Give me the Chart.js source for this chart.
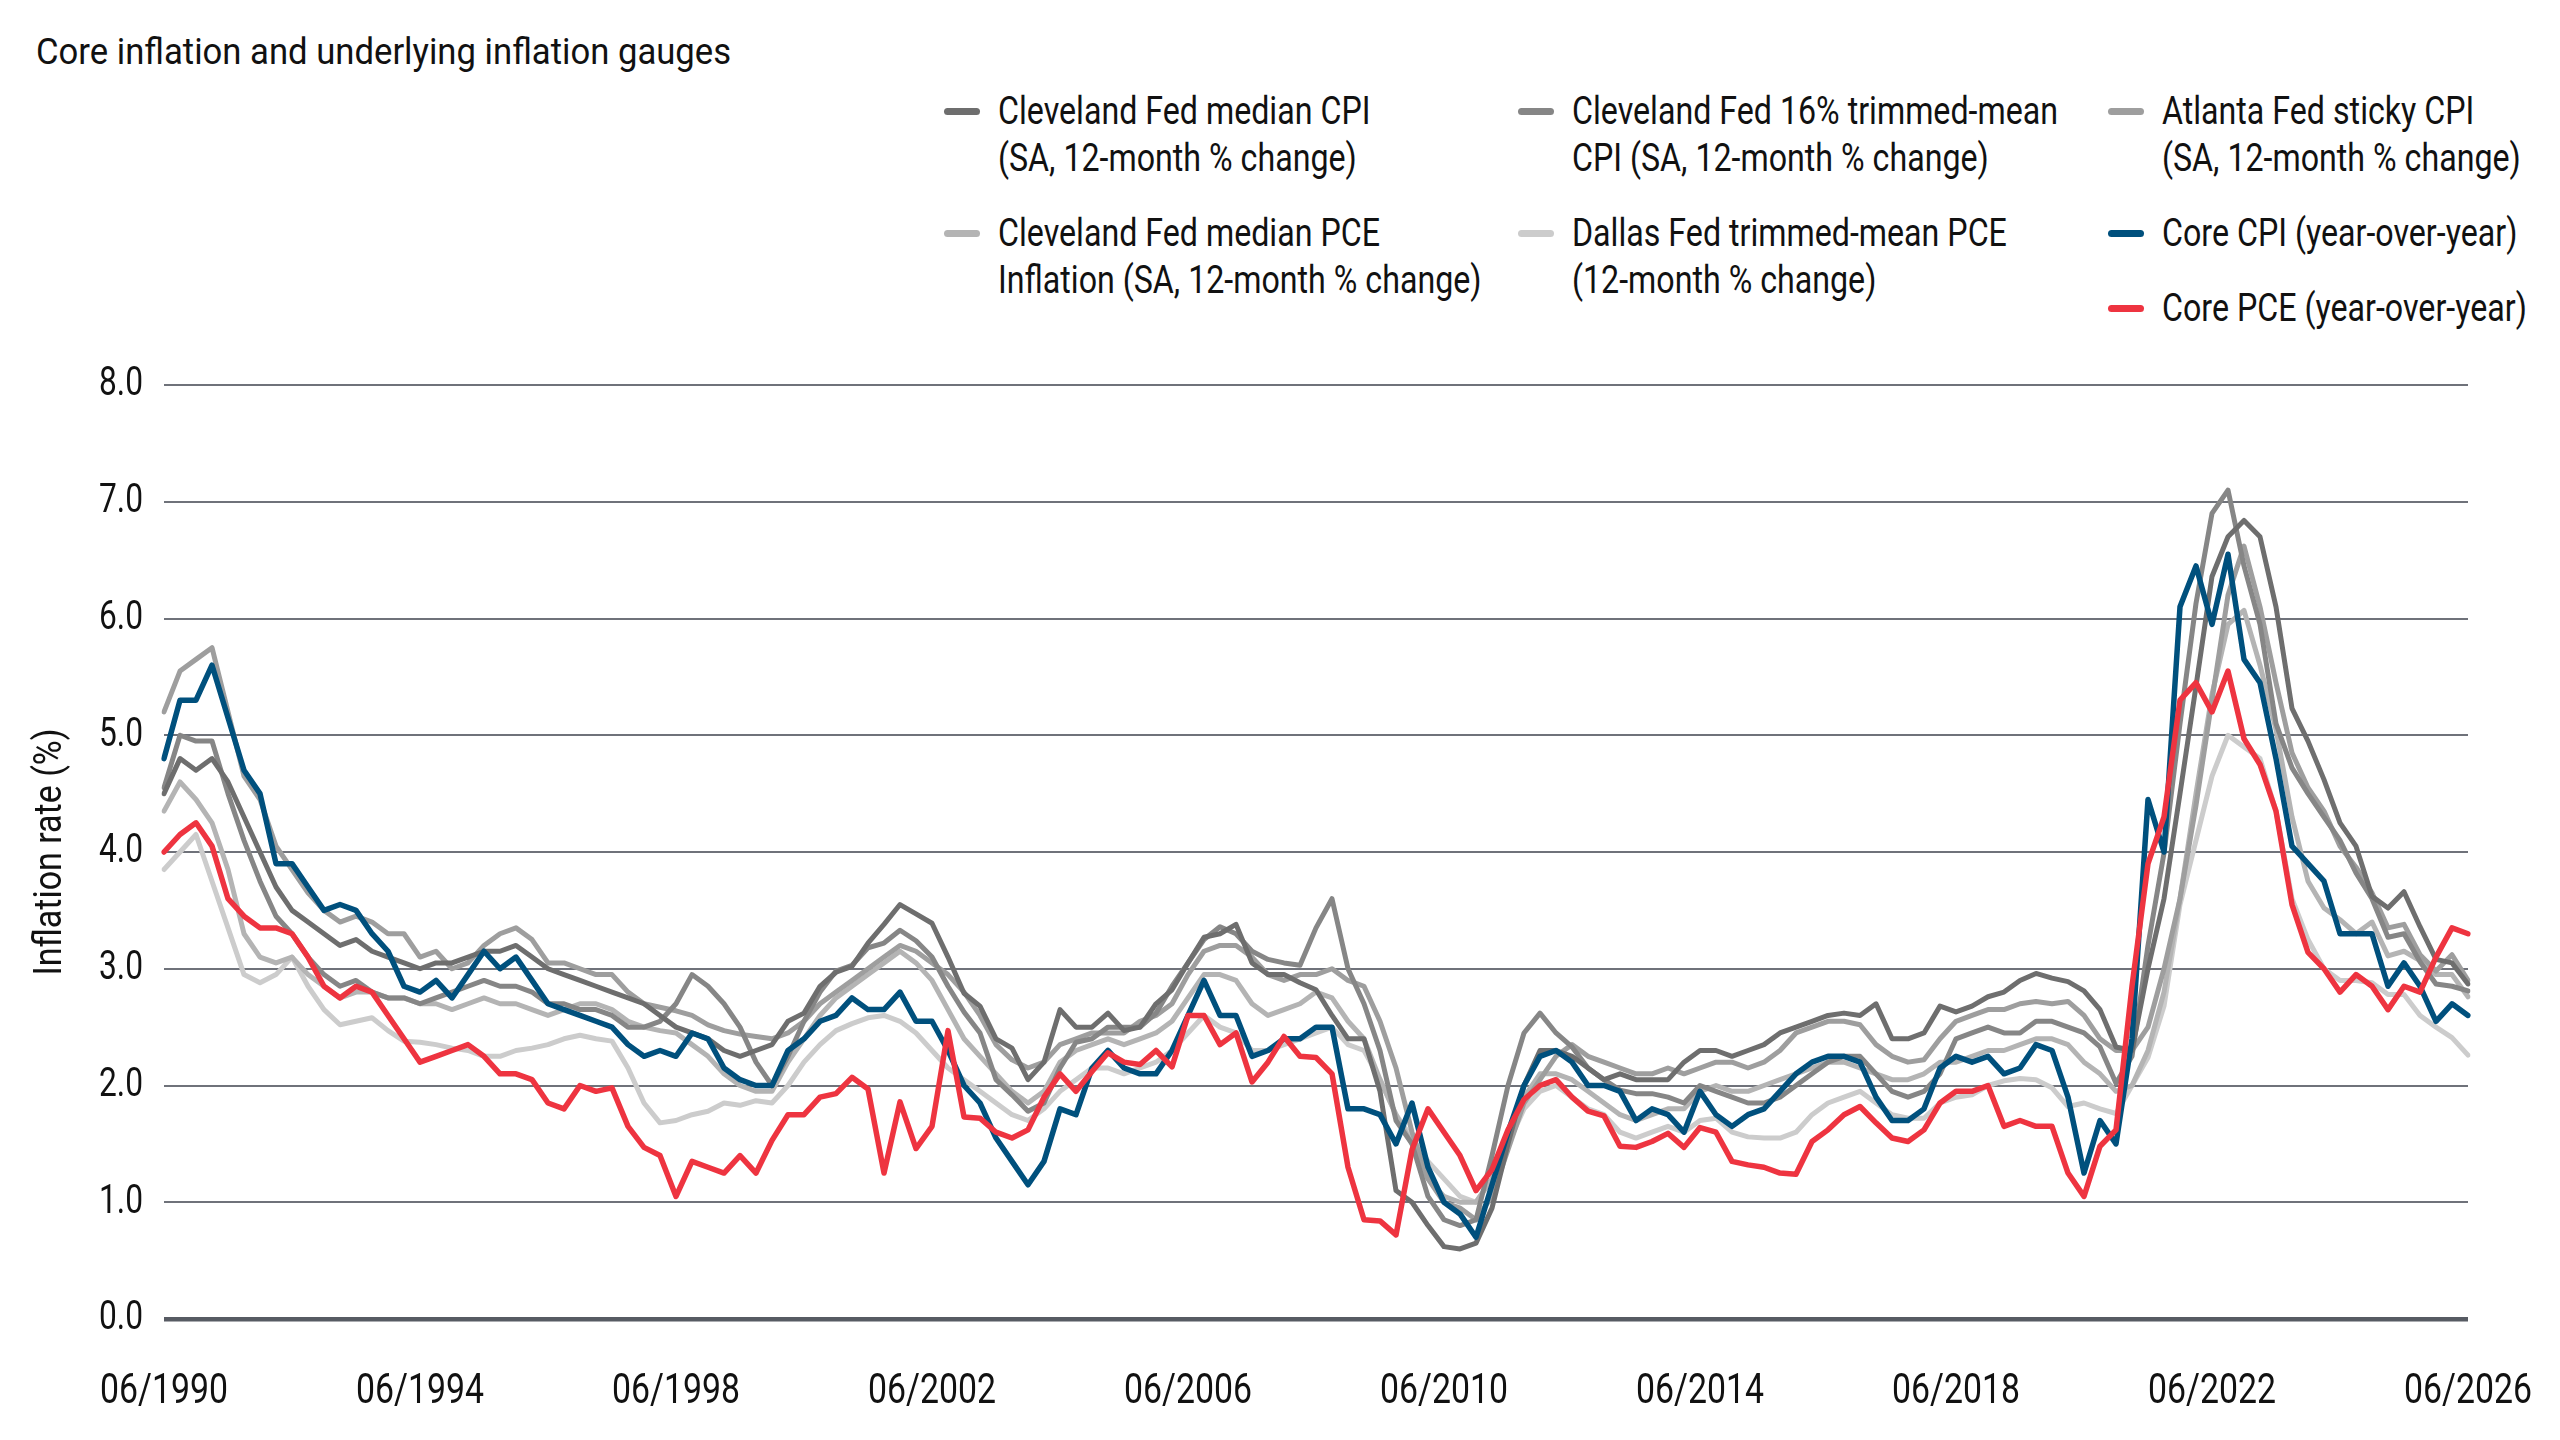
<!DOCTYPE html>
<html>
<head>
<meta charset="utf-8">
<title>Core inflation and underlying inflation gauges</title>
<script src="https://cdn.jsdelivr.net/npm/chart.js@4.4.1/dist/chart.umd.min.js"></script>
<style>
  html, body { margin: 0; padding: 0; background: #fff; }
  #wrap { position: relative; width: 2560px; height: 1440px; overflow: hidden;
          font-family: Roboto, 'Liberation Sans', sans-serif; color: #111; }
  #title { position: absolute; left: 36px; top: 31px; font-size: 37px; line-height: 42px; white-space: nowrap;
           transform-origin: 0 50%; }
  .legend-col { position: absolute; top: 88px; display: flex; flex-direction: column; gap: 28px; }
  .legend-item { display: flex; align-items: flex-start; }
  .legend-swatch { width: 36px; height: 7px; border-radius: 4px; margin-top: 20px; margin-right: 18px; flex: none; }
  .legend-text { font-size: 39px; line-height: 47px; white-space: pre; transform-origin: 0 50%; }
  canvas { position: absolute; left: 0; top: 0; }
</style>
</head>
<body>
<div id="wrap">
  <div id="title">Core inflation and underlying inflation gauges</div>
  <div id="legend"></div>
  <canvas id="inflationChart" width="2560" height="1440"></canvas>
</div>
<script>
// Quarterly readings, 06/1990 .. 06/2026 (one row per year: Mar, Jun, Sep, Dec)
const medianCpi = [
  4.5, 4.8, 4.7,
  4.8, 4.6, 4.3, 4.0,
  3.7, 3.5, 3.4, 3.3,
  3.2, 3.25, 3.15, 3.1,
  3.05, 3.0, 3.05, 3.05,
  3.1, 3.15, 3.15, 3.2,
  3.1, 3.0, 2.95, 2.9,
  2.85, 2.8, 2.75, 2.7,
  2.6, 2.5, 2.45, 2.4,
  2.3, 2.25, 2.3, 2.35,
  2.55, 2.62, 2.85, 2.97,
  3.02, 3.22, 3.38, 3.55,
  3.47, 3.39, 3.1, 2.79,
  2.68, 2.4, 2.32, 2.05,
  2.2, 2.65, 2.5, 2.5,
  2.62, 2.47, 2.5, 2.7,
  2.82, 3.05, 3.27, 3.3,
  3.38, 3.05, 2.95, 2.95,
  2.88, 2.82, 2.6, 2.4,
  2.4, 1.95, 1.1, 1.0,
  0.8, 0.62, 0.6, 0.65,
  0.95, 1.5, 2.0, 2.3,
  2.3, 2.25, 2.15, 2.05,
  2.1, 2.05, 2.05, 2.05,
  2.2, 2.3, 2.3, 2.25,
  2.3, 2.35, 2.45, 2.5,
  2.55, 2.6, 2.62, 2.6,
  2.7, 2.4, 2.4, 2.45,
  2.68, 2.63, 2.68, 2.76,
  2.8, 2.9, 2.96, 2.92,
  2.89, 2.81, 2.65, 2.33,
  2.3, 3.0, 3.6, 4.5,
  5.42, 6.36, 6.7, 6.84,
  6.7, 6.1, 5.23, 4.95,
  4.62, 4.25, 4.05, 3.62,
  3.52, 3.66, 3.36, 3.08,
  3.05, 2.87
];

const trimmedCpi = [
  4.55, 5.0, 4.95,
  4.95, 4.5, 4.1, 3.75,
  3.45, 3.3, 3.1, 2.95,
  2.85, 2.9, 2.8, 2.75,
  2.75, 2.7, 2.75, 2.8,
  2.85, 2.9, 2.85, 2.85,
  2.8, 2.7, 2.7, 2.65,
  2.65, 2.6, 2.5, 2.5,
  2.55, 2.7, 2.95, 2.85,
  2.7, 2.5, 2.2, 2.0,
  2.25, 2.55, 2.8, 2.98,
  3.03, 3.18, 3.22, 3.33,
  3.24, 3.1, 2.85, 2.63,
  2.45, 2.05, 1.92, 1.78,
  1.85, 2.15, 2.37, 2.4,
  2.5, 2.5, 2.5, 2.62,
  2.85, 3.05, 3.25, 3.36,
  3.3, 3.15, 3.08, 3.05,
  3.03, 3.35, 3.6, 3.0,
  2.7, 2.3, 1.7, 1.5,
  1.05, 0.85, 0.8, 0.85,
  1.4, 2.0, 2.45, 2.62,
  2.45, 2.33, 2.15, 2.05,
  1.96, 1.93, 1.93, 1.9,
  1.85, 2.0, 1.95, 1.9,
  1.85, 1.85, 1.9, 2.0,
  2.1, 2.2, 2.25, 2.25,
  2.1, 1.95, 1.9, 1.95,
  2.1, 2.4, 2.45, 2.5,
  2.45, 2.45, 2.55, 2.55,
  2.5, 2.45, 2.33, 2.02,
  2.25, 3.2, 3.99, 5.1,
  6.13, 6.9, 7.1, 6.45,
  5.95, 5.1, 4.72, 4.5,
  4.3, 4.1, 3.82, 3.6,
  3.27, 3.3, 3.06, 2.87,
  2.85, 2.81
];

const stickyCpi = [
  5.2, 5.55, 5.65,
  5.75, 5.2, 4.65, 4.45,
  4.05, 3.85, 3.65, 3.5,
  3.4, 3.45, 3.4, 3.3,
  3.3, 3.1, 3.15, 3.0,
  3.05, 3.2, 3.3, 3.35,
  3.25, 3.05, 3.05, 3.0,
  2.95, 2.95, 2.8, 2.7,
  2.67, 2.64, 2.6, 2.52,
  2.47, 2.44, 2.42, 2.4,
  2.45, 2.55, 2.7, 2.8,
  2.9, 3.0, 3.1, 3.2,
  3.15, 3.05, 2.95, 2.8,
  2.6, 2.35, 2.22, 2.15,
  2.2, 2.35, 2.4, 2.45,
  2.45, 2.45, 2.55, 2.6,
  2.7, 2.95, 3.15, 3.2,
  3.2, 3.1, 2.95, 2.9,
  2.95, 2.95, 3.0, 2.9,
  2.85, 2.55, 2.15, 1.6,
  1.2, 1.0, 0.95, 0.85,
  1.05, 1.45, 1.85, 2.05,
  2.25, 2.35, 2.25, 2.2,
  2.15, 2.1, 2.1, 2.15,
  2.1, 2.15, 2.2, 2.2,
  2.15, 2.2, 2.3, 2.45,
  2.5, 2.55, 2.55, 2.52,
  2.35, 2.25, 2.2, 2.22,
  2.4, 2.55, 2.6, 2.65,
  2.65, 2.7, 2.72, 2.7,
  2.72, 2.6, 2.4, 2.3,
  2.3, 2.5, 3.0, 3.6,
  4.4, 5.3, 6.2, 6.62,
  6.1, 5.45, 4.85, 4.55,
  4.35, 4.05, 3.87, 3.65,
  3.35, 3.38, 3.12, 2.98,
  3.12, 2.9
];

const medianPce = [
  4.35, 4.6, 4.45,
  4.25, 3.85, 3.3, 3.1,
  3.05, 3.1, 2.95, 2.85,
  2.75, 2.8, 2.8, 2.75,
  2.75, 2.7, 2.7, 2.65,
  2.7, 2.75, 2.7, 2.7,
  2.65, 2.6, 2.65, 2.7,
  2.7, 2.65, 2.55, 2.5,
  2.47, 2.45, 2.35, 2.25,
  2.1, 2.0, 1.95, 1.95,
  2.2, 2.4, 2.6, 2.75,
  2.85, 2.95, 3.05, 3.15,
  3.05, 2.9, 2.65, 2.4,
  2.25, 2.1, 1.95, 1.85,
  1.95, 2.2, 2.3, 2.35,
  2.4, 2.35, 2.4, 2.45,
  2.55, 2.75, 2.95, 2.95,
  2.9, 2.7, 2.6, 2.65,
  2.7, 2.8, 2.75, 2.55,
  2.4, 2.05, 1.75, 1.5,
  1.2, 1.05, 1.0, 1.0,
  1.2, 1.55, 1.9, 2.1,
  2.1, 2.05, 1.95, 1.85,
  1.75, 1.7, 1.75, 1.8,
  1.8, 1.95, 2.0, 1.95,
  1.95, 2.0, 2.05, 2.1,
  2.15, 2.2, 2.2, 2.15,
  2.1, 2.05, 2.05, 2.1,
  2.2, 2.2, 2.25, 2.3,
  2.3, 2.35, 2.4, 2.4,
  2.35, 2.2, 2.1, 1.95,
  2.0, 2.3, 2.8, 3.6,
  4.5, 5.35, 5.95, 6.07,
  5.6, 5.05, 4.3, 3.75,
  3.52, 3.42, 3.3, 3.4,
  3.11, 3.15, 3.07, 2.95,
  2.95, 2.76
];

const dallasPce = [
  3.85, 4.0, 4.15,
  3.75, 3.35, 2.95, 2.88,
  2.95, 3.1, 2.85, 2.65,
  2.52, 2.55, 2.58, 2.47,
  2.38, 2.37, 2.35, 2.32,
  2.3, 2.25, 2.25, 2.3,
  2.32, 2.35, 2.4, 2.43,
  2.4, 2.38, 2.15, 1.85,
  1.68, 1.7, 1.75, 1.78,
  1.85, 1.83, 1.87, 1.85,
  2.0, 2.2, 2.35, 2.47,
  2.53, 2.58, 2.6, 2.55,
  2.45, 2.3, 2.15, 2.05,
  1.95, 1.85, 1.75, 1.7,
  1.8, 1.95, 2.05, 2.15,
  2.15, 2.1, 2.15, 2.2,
  2.3, 2.45, 2.6, 2.5,
  2.45, 2.3, 2.3, 2.35,
  2.4, 2.45, 2.5, 2.35,
  2.3, 2.05, 1.75, 1.55,
  1.35, 1.2, 1.05, 1.0,
  1.2, 1.5, 1.8, 1.95,
  2.0, 1.9, 1.8, 1.75,
  1.6, 1.55, 1.6, 1.65,
  1.6, 1.7, 1.72, 1.6,
  1.56, 1.55, 1.55, 1.6,
  1.75, 1.85, 1.9, 1.95,
  1.85, 1.75, 1.72, 1.72,
  1.85, 1.9, 1.92, 2.0,
  2.04, 2.06, 2.05, 1.98,
  1.82, 1.85, 1.8, 1.76,
  2.0, 2.24, 2.68, 3.55,
  4.1, 4.65, 5.0, 4.9,
  4.8, 4.35, 3.6, 3.25,
  3.0, 2.9, 2.9, 2.88,
  2.78, 2.78, 2.6, 2.5,
  2.41, 2.26
];

const coreCpi = [
  4.8, 5.3, 5.3,
  5.6, 5.15, 4.7, 4.5,
  3.9, 3.9, 3.7, 3.5,
  3.55, 3.5, 3.3, 3.15,
  2.85, 2.8, 2.9, 2.75,
  2.95, 3.15, 3.0, 3.1,
  2.9, 2.7, 2.65, 2.6,
  2.55, 2.5, 2.35, 2.25,
  2.3, 2.25, 2.45, 2.4,
  2.15, 2.05, 2.0, 2.0,
  2.3, 2.4, 2.55, 2.6,
  2.75, 2.65, 2.65, 2.8,
  2.55, 2.55, 2.3, 2.0,
  1.85, 1.55, 1.35, 1.15,
  1.35, 1.8, 1.75, 2.15,
  2.3, 2.15, 2.1, 2.1,
  2.3, 2.6, 2.9, 2.6,
  2.6, 2.25, 2.3, 2.4,
  2.4, 2.5, 2.5, 1.8,
  1.8, 1.75, 1.5, 1.85,
  1.3, 1.0, 0.9, 0.7,
  1.15, 1.6, 2.0, 2.25,
  2.3, 2.2, 2.0, 2.0,
  1.95, 1.7, 1.8, 1.75,
  1.6, 1.95, 1.75, 1.65,
  1.75, 1.8, 1.95, 2.1,
  2.2, 2.25, 2.25, 2.2,
  1.9, 1.7, 1.7, 1.8,
  2.15, 2.25, 2.2, 2.25,
  2.1, 2.15, 2.35, 2.3,
  1.9, 1.25, 1.7, 1.5,
  2.4, 4.45, 4.0, 6.1,
  6.45, 5.95, 6.55, 5.65,
  5.45, 4.8, 4.05, 3.9,
  3.75, 3.3, 3.3, 3.3,
  2.85, 3.05, 2.85, 2.55,
  2.7, 2.6
];

const corePce = [
  4.0, 4.15, 4.25,
  4.05, 3.6, 3.45, 3.35,
  3.35, 3.3, 3.1, 2.85,
  2.75, 2.85, 2.8, 2.6,
  2.4, 2.2, 2.25, 2.3,
  2.35, 2.25, 2.1, 2.1,
  2.05, 1.85, 1.8, 2.0,
  1.95, 1.98, 1.65, 1.47,
  1.4, 1.05, 1.35, 1.3,
  1.25, 1.4, 1.25, 1.53,
  1.75, 1.75, 1.9, 1.93,
  2.07, 1.97, 1.25, 1.86,
  1.46, 1.65, 2.47, 1.73,
  1.72, 1.6, 1.55, 1.62,
  1.9, 2.1, 1.95, 2.12,
  2.28, 2.2, 2.18, 2.3,
  2.16, 2.6, 2.6, 2.35,
  2.45, 2.03, 2.2, 2.42,
  2.25, 2.24, 2.1, 1.3,
  0.85, 0.84, 0.72, 1.45,
  1.8, 1.6, 1.4, 1.1,
  1.28, 1.62, 1.88, 2.0,
  2.05, 1.9, 1.78, 1.74,
  1.48, 1.47, 1.52, 1.59,
  1.47, 1.64, 1.6, 1.35,
  1.32, 1.3, 1.25, 1.24,
  1.52, 1.62, 1.75, 1.82,
  1.68, 1.55, 1.52, 1.62,
  1.85, 1.95, 1.95, 2.0,
  1.65, 1.7, 1.65, 1.65,
  1.25, 1.05, 1.48, 1.62,
  2.85, 3.9, 4.3, 5.3,
  5.45, 5.2, 5.55, 4.97,
  4.75, 4.35, 3.55, 3.14,
  3.0, 2.8, 2.95, 2.85,
  2.65, 2.85, 2.8, 3.1,
  3.35, 3.3
];

const seriesLabels = [
  'Cleveland Fed median CPI\n(SA, 12-month % change)',
  'Cleveland Fed 16% trimmed-mean\nCPI (SA, 12-month % change)',
  'Atlanta Fed sticky CPI\n(SA, 12-month % change)',
  'Cleveland Fed median PCE\nInflation (SA, 12-month % change)',
  'Dallas Fed trimmed-mean PCE\n(12-month % change)',
  'Core CPI (year-over-year)',
  'Core PCE (year-over-year)'
];

// quarter labels mm/yyyy starting 06/1990
const quarterLabels = [];
for (let y = 1990, m = 6; quarterLabels.length < coreCpi.length; m += 3) {
  if (m > 12) { m -= 12; y++; }
  quarterLabels.push(String(m).padStart(2, '0') + '/' + y);
}

const fontFamily = 'Roboto, "Liberation Sans", sans-serif';
const textColor = '#111111';

// The original uses a condensed face; none is installed, so text is narrowed horizontally.
const measureCtx = document.createElement('canvas').getContext('2d');
function narrowFactor(text, size, targetWidth) {
  measureCtx.font = size + 'px ' + fontFamily;
  return targetWidth / measureCtx.measureText(text).width;
}
const narrowBySize = {
  43: narrowFactor('06/1990', 43, 128),
  41: narrowFactor('0.0', 41, 44),
  38: narrowFactor('Inflation rate (%)', 38, 247)
};

const series = [
  { label: seriesLabels[0], data: medianCpi, color: '#6e6e6e', width: 5, order: 2 },
  { label: seriesLabels[1], data: trimmedCpi, color: '#868686', width: 5, order: 3 },
  { label: seriesLabels[2], data: stickyCpi, color: '#9e9e9e', width: 5, order: 4 },
  { label: seriesLabels[3], data: medianPce, color: '#b4b4b4', width: 5, order: 5 },
  { label: seriesLabels[4], data: dallasPce, color: '#cccccc', width: 5, order: 6 },
  { label: seriesLabels[5], data: coreCpi, color: '#00507d', width: 5.5, order: 1 },
  { label: seriesLabels[6], data: corePce, color: '#ee3440', width: 5.5, order: 0 }
];

// title
const titleEl = document.getElementById('title');
titleEl.style.transform = 'scaleX(' + (695 / titleEl.offsetWidth) + ')';

// legend, three columns like the original
const legendColumns = [[0, 3], [1, 4], [2, 5, 6]];
const legendLeft = [944, 1518, 2108];
const legendEl = document.getElementById('legend');
const legendNarrow = narrowFactor('Cleveland Fed 16% trimmed-mean', 39, 486);
legendColumns.forEach(function (col, c) {
  const colEl = document.createElement('div');
  colEl.className = 'legend-col';
  colEl.style.left = legendLeft[c] + 'px';
  col.forEach(function (idx) {
    const item = document.createElement('div');
    item.className = 'legend-item';
    const sw = document.createElement('div');
    sw.className = 'legend-swatch';
    sw.style.background = series[idx].color;
    const tx = document.createElement('div');
    tx.className = 'legend-text';
    tx.style.transform = 'scaleX(' + legendNarrow + ')';
    tx.textContent = series[idx].label;
    item.appendChild(sw);
    item.appendChild(tx);
    colEl.appendChild(item);
  });
  legendEl.appendChild(colEl);
});

const ctx = document.getElementById('inflationChart').getContext('2d');
const rawFillText = ctx.fillText;
ctx.fillText = function (text, x, y, maxWidth) {
  const m = /(\d+(?:\.\d+)?)px/.exec(this.font);
  const k = m ? narrowBySize[Math.round(parseFloat(m[1]))] : undefined;
  if (!k) {
    return maxWidth === undefined ? rawFillText.call(this, text, x, y) : rawFillText.call(this, text, x, y, maxWidth);
  }
  this.save();
  this.translate(x, y);
  this.scale(k, 1);
  if (maxWidth === undefined) rawFillText.call(this, text, 0, 0);
  else rawFillText.call(this, text, 0, 0, maxWidth / k);
  this.restore();
};

const inflationChart = new Chart(ctx, {
  type: 'line',
  data: {
    labels: quarterLabels,
    datasets: series.map(function (s) {
      return {
        label: s.label,
        data: s.data,
        borderColor: s.color,
        backgroundColor: s.color,
        borderWidth: s.width,
        order: s.order,
        fill: false
      };
    })
  },
  options: {
    responsive: false,
    animation: false,
    devicePixelRatio: 1,
    layout: { padding: { top: 385, right: 92, bottom: 0, left: 0 } },
    plugins: {
      legend: { display: false },
      tooltip: { enabled: false }
    },
    elements: {
      point: { radius: 0 },
      line: { tension: 0, borderJoinStyle: 'round', borderCapStyle: 'round' }
    },
    scales: {
      x: {
        type: 'category',
        offset: false,
        grid: { display: false, drawTicks: false },
        border: { display: false },
        ticks: {
          autoSkip: false,
          maxRotation: 0,
          padding: 47,
          color: textColor,
          font: { family: fontFamily, size: 43 },
          callback: function (value, index) {
            return index % 16 === 0 ? this.getLabelForValue(value) : null;
          }
        },
        afterFit: function (scale) {
          scale.height = 121;
          scale.paddingLeft = 0;
          scale.paddingRight = 0;
        }
      },
      y: {
        min: 0,
        max: 8,
        grid: {
          drawTicks: false,
          color: function (c) { return c.tick && c.tick.value === 0 ? '#575b63' : '#6f727a'; },
          lineWidth: function (c) { return c.tick && c.tick.value === 0 ? 4.5 : 2; }
        },
        border: { display: false },
        ticks: {
          stepSize: 1,
          padding: 21,
          color: textColor,
          font: { family: fontFamily, size: 41 },
          callback: function (v) { return v.toFixed(1); }
        },
        title: {
          display: true,
          text: 'Inflation rate (%)',
          color: textColor,
          font: { family: fontFamily, size: 38 },
          padding: { top: 29, bottom: 0 }
        },
        afterFit: function (scale) {
          scale.width = 164;
          scale.paddingTop = 0;
          scale.paddingBottom = 0;
        }
      }
    }
  }
});
</script>
</body>
</html>
